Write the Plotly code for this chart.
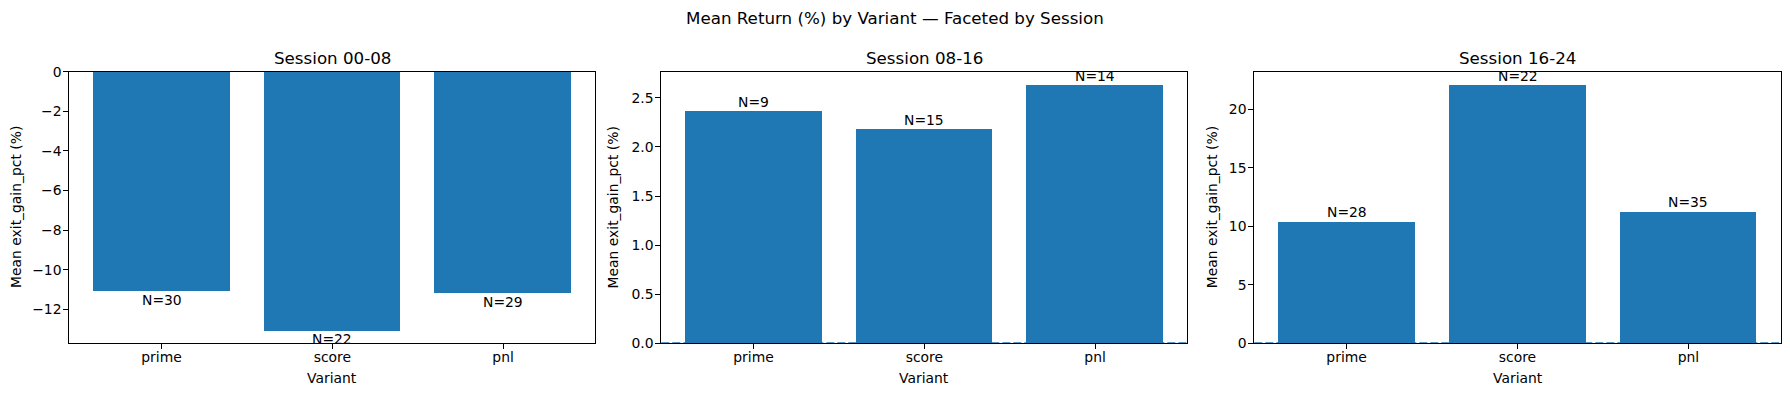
import plotly.graph_objects as go

# ---- data ----
variants = ["prime", "score", "pnl"]
sessions = ["Session 00-08", "Session 08-16", "Session 16-24"]
mean_s1 = [-11.08, -13.06, -11.16]
mean_s2 = [2.37, 2.185, 2.635]
mean_s3 = [10.43, 22.10, 11.28]
n_s1 = [30, 22, 29]
n_s2 = [9, 15, 14]
n_s3 = [28, 22, 35]

means = [mean_s1, mean_s2, mean_s3]
counts = [n_s1, n_s2, n_s3]
dticks = [2, 0.5, 5]
tickfmts = ["d", ".1f", "d"]

W, H = 1790, 396
BLUE = "#1f77b4"
FONT = "DejaVu Sans"
TICK = 13.9
TITLE = 16.7

# axes pixel boxes (left, right), shared top/bottom
boxes = [(69.3, 595.3), (661.3, 1187.3), (1254.3, 1780.7)]
top_px, bot_px = 71.7, 343.3
ylabel_px = [15.5, 612.0, 1211.7]

fig = go.Figure()
annotations = []
shapes = []

for i in range(3):
    k = "" if i == 0 else str(i + 1)
    xa, ya = "x" + k, "y" + k
    vals = means[i]
    fig.add_trace(go.Bar(x=variants, y=vals, width=0.8, marker=dict(color=BLUE, line=dict(width=0)),
                         xaxis=xa, yaxis=ya, showlegend=False, hoverinfo="skip"))
    lo, hi = min(min(vals), 0), max(max(vals), 0)
    span = hi - lo
    yr = [lo - 0.05 * span if lo < 0 else 0, hi + 0.05 * span if hi > 0 else 0]
    l, r = boxes[i]
    axstyle = dict(showline=True, linecolor="black", linewidth=1, mirror=True,
                   ticks="outside", ticklen=5, tickwidth=1, tickcolor="black",
                   showgrid=False, zeroline=False, automargin=False,
                   tickfont=dict(family=FONT, size=TICK, color="black"))
    fig.layout["xaxis" + k] = dict(domain=[l / W, r / W], anchor=ya, type="category",
                                   range=[-0.54, 2.54], ticklabelstandoff=-4, **axstyle)
    fig.layout["yaxis" + k] = dict(domain=[1 - bot_px / H, 1 - top_px / H], anchor=xa,
                                   range=yr, dtick=dticks[i], tick0=0, tickformat=tickfmts[i],
                                   ticklabelstandoff=-1, **axstyle)
    # N labels
    for v, val, n in zip(variants, vals, counts[i]):
        annotations.append(dict(x=v, y=val, xref=xa, yref=ya, text=f"N={n}", showarrow=False,
                                yanchor="bottom" if val >= 0 else "top", xanchor="center",
                                font=dict(family=FONT, size=TICK, color="black"), borderpad=0))
    # subplot title
    annotations.append(dict(x=(l + r) / 2 / W, y=1 - 58 / H, xref="paper", yref="paper",
                            text=sessions[i], showarrow=False, xanchor="center", yanchor="middle",
                            font=dict(family=FONT, size=TITLE, color="black")))
    # x label
    annotations.append(dict(x=(l + r) / 2 / W, y=1 - 377.5 / H, xref="paper", yref="paper",
                            text="Variant", showarrow=False, xanchor="center", yanchor="middle",
                            font=dict(family=FONT, size=TICK, color="black")))
    # y label
    annotations.append(dict(x=ylabel_px[i] / W, y=1 - (top_px + bot_px) / 2 / H, xref="paper", yref="paper",
                            text="Mean exit_gain_pct (%)", showarrow=False, textangle=-90,
                            xanchor="center", yanchor="middle",
                            font=dict(family=FONT, size=TICK, color="black")))
    # dashed zero line (only visible in the positive panels)
    if min(vals) >= 0:
        shapes.append(dict(type="line", xref=xa + " domain", yref=ya, x0=0, x1=1, y0=0, y1=0,
                           line=dict(color=BLUE, width=2, dash="8px,3px"), layer="below"))

annotations.append(dict(x=0.5, y=1 - 17.5 / H, xref="paper", yref="paper",
                        text="Mean Return (%) by Variant — Faceted by Session", showarrow=False,
                        xanchor="center", yanchor="middle",
                        font=dict(family=FONT, size=TITLE, color="black")))

fig.update_layout(width=W, height=H, margin=dict(l=0, r=0, t=0, b=0, pad=0, autoexpand=False),
                  paper_bgcolor="white", plot_bgcolor="white", hovermode=False,
                  annotations=annotations, shapes=shapes, bargap=0,
                  font=dict(family=FONT, size=TICK, color="black"))

fig.write_html("out.html", config={"displayModeBar": False},
               post_script="document.body.style.margin='0';")
